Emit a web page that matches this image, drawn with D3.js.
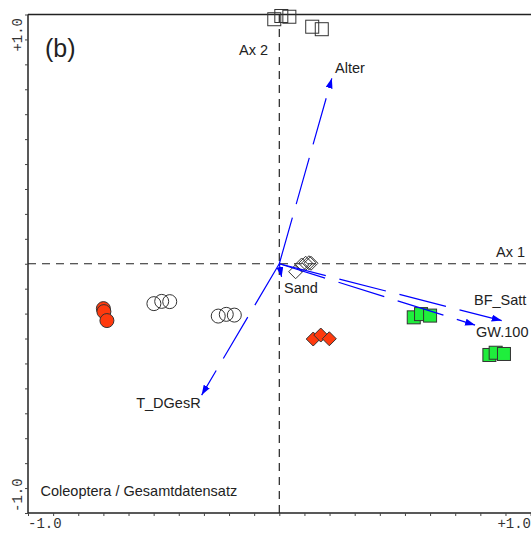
<!DOCTYPE html>
<html>
<head>
<meta charset="utf-8">
<script src="https://cdn.jsdelivr.net/npm/d3@7/dist/d3.min.js"></script>
<style>
  html, body { margin: 0; padding: 0; background: #fff; }
  svg { display: block; }
</style>
</head>
<body>
<svg id="chart" width="531" height="533"></svg>
<script>
// ---- data (ordination scores, axis units -1 .. +1) ----
const openSquaresX = [-0.020, 0.008, 0.040, 0.131, 0.169];
const openSquaresY = [0.981, 0.994, 0.991, 0.951, 0.941];

const openDiamondsX = [0.065, 0.089, 0.105, 0.118, 0.126];
const openDiamondsY = [-0.032, -0.005, 0.002, 0.004, 0.002];

const redDiamondsX = [0.135, 0.165, 0.199];
const redDiamondsY = [-0.302, -0.286, -0.301];

const redCirclesX = [-0.700, -0.698, -0.686];
const redCirclesY = [-0.180, -0.192, -0.228];

const openCirclesX = [-0.499, -0.468, -0.436, -0.243, -0.211, -0.179];
const openCirclesY = [-0.160, -0.151, -0.152, -0.210, -0.203, -0.206];

const greenSquaresX = [0.535, 0.564, 0.600, 0.836, 0.861, 0.894];
const greenSquaresY = [-0.215, -0.202, -0.208, -0.366, -0.357, -0.362];

const envNames = ["Alter", "T_DGesR", "Sand", "BF_Satt", "GW.100"];
const envX = [0.209, -0.309, 0.009, 0.885, 0.779];
const envY = [0.744, -0.527, -0.053, -0.228, -0.246];

const axisTickLabels = ["-1.0", "+1.0"];
const axisNames = ["Ax 1", "Ax 2"];
const panelLabel = "(b)";
const titleText = "Coleoptera / Gesamtdatensatz";

// ---- drawing ----
const svg = d3.select("#chart");
const x = d3.scaleLinear().domain([-1, 1]).range([28, 530.6]);
const y = d3.scaleLinear().domain([-1, 1]).range([513, 14.5]);

const ink = "#222";
const sansFont = "'Liberation Sans', Arial, sans-serif";
const monoFont = "'Liberation Mono', 'Courier New', monospace";
const labelSize = 14.5;

const zip = (xs, ys) => xs.map((v, i) => [v, ys[i]]);

// frame: top, left, bottom
svg.append("line").attr("x1", x(-1)).attr("x2", 531).attr("y1", y(1)).attr("y2", y(1))
  .attr("stroke", ink).attr("stroke-width", 1.5);
svg.append("line").attr("x1", x(-1)).attr("x2", x(-1)).attr("y1", y(1)).attr("y2", y(-1))
  .attr("stroke", ink).attr("stroke-width", 1.5);
svg.append("line").attr("x1", x(-1)).attr("x2", 531).attr("y1", y(-1)).attr("y2", y(-1))
  .attr("stroke", ink).attr("stroke-width", 1.5);

// minor ticks using d3 axes
const tickVals = d3.range(-10, 11).map(d => d / 10);
const xAxis = d3.axisBottom(x).tickValues(tickVals).tickSize(3).tickFormat("");
const yAxis = d3.axisLeft(y).tickValues(tickVals).tickSize(3).tickFormat("");
const gx = svg.append("g").attr("transform", `translate(0,${y(-1)})`).call(xAxis);
const gy = svg.append("g").attr("transform", `translate(${x(-1)},0)`).call(yAxis);
[gx, gy].forEach(g => {
  g.select(".domain").remove();
  g.selectAll(".tick line").attr("stroke", "#444").attr("stroke-width", 1);
});

// tick labels
svg.append("text").attr("x", x(-1)).attr("y", 528).text(axisTickLabels[0])
  .attr("font-family", monoFont).attr("font-size", 14).attr("fill", "#333");
svg.append("text").attr("x", 531).attr("y", 528).attr("text-anchor", "end").text(axisTickLabels[1])
  .attr("font-family", monoFont).attr("font-size", 14).attr("fill", "#333");
svg.append("text").attr("transform", `translate(22,${y(-1) - 1}) rotate(-90)`).text(axisTickLabels[0])
  .attr("font-family", monoFont).attr("font-size", 14).attr("fill", "#333");
svg.append("text").attr("transform", `translate(22,${y(1) + 3.5}) rotate(-90)`).attr("text-anchor", "end")
  .text(axisTickLabels[1])
  .attr("font-family", monoFont).attr("font-size", 14).attr("fill", "#333");

// dashed zero axes
svg.append("line").attr("x1", x(-1)).attr("x2", 531).attr("y1", y(0)).attr("y2", y(0))
  .attr("stroke", ink).attr("stroke-width", 1.2).attr("stroke-dasharray", "8,6");
svg.append("line").attr("x1", x(0)).attr("x2", x(0)).attr("y1", y(-1)).attr("y2", y(1))
  .attr("stroke", ink).attr("stroke-width", 1.2).attr("stroke-dasharray", "8,6");

// axis names
svg.append("text").attr("x", 525).attr("y", 257).attr("text-anchor", "end").text(axisNames[0])
  .attr("font-family", sansFont).attr("font-size", labelSize).attr("fill", ink);
svg.append("text").attr("x", 268).attr("y", 55).attr("text-anchor", "end").text(axisNames[1])
  .attr("font-family", sansFont).attr("font-size", labelSize).attr("fill", ink);

// panel label + title
svg.append("text").attr("x", 45).attr("y", 57).text(panelLabel)
  .attr("font-family", sansFont).attr("font-size", 25).attr("fill", ink);
svg.append("text").attr("x", 40.5).attr("y", 496).text(titleText)
  .attr("font-family", sansFont).attr("font-size", labelSize).attr("fill", ink);

// ---- sample points ----
const sq = 13, rc = 7, dm = 7;
const stroke = "#333";

function squares(data, fill) {
  svg.append("g").selectAll("rect").data(data).join("rect")
    .attr("x", d => x(d[0]) - sq / 2).attr("y", d => y(d[1]) - sq / 2)
    .attr("width", sq).attr("height", sq)
    .attr("fill", fill).attr("stroke", stroke).attr("stroke-width", 1);
}
function circles(data, fill) {
  svg.append("g").selectAll("circle").data(data).join("circle")
    .attr("cx", d => x(d[0])).attr("cy", d => y(d[1])).attr("r", rc)
    .attr("fill", fill).attr("stroke", stroke).attr("stroke-width", 1);
}
function diamonds(data, fill) {
  svg.append("g").selectAll("path").data(data).join("path")
    .attr("d", d => {
      const cx = x(d[0]), cy = y(d[1]);
      return `M${cx},${cy - dm}L${cx + dm},${cy}L${cx},${cy + dm}L${cx - dm},${cy}Z`;
    })
    .attr("fill", fill).attr("stroke", stroke).attr("stroke-width", 1);
}

squares(zip(openSquaresX, openSquaresY), "none");
circles(zip(openCirclesX, openCirclesY), "none");
circles(zip(redCirclesX, redCirclesY), "#ff3a0e");
diamonds(zip(redDiamondsX, redDiamondsY), "#ff3a0e");
squares(zip(greenSquaresX, greenSquaresY), "#1fee3c");
diamonds(zip(openDiamondsX, openDiamondsY), "none");

// ---- environmental arrows ----
const blue = "#0000ff";
svg.append("defs").append("marker")
  .attr("id", "head").attr("markerUnits", "userSpaceOnUse")
  .attr("markerWidth", 11).attr("markerHeight", 8)
  .attr("refX", 10).attr("refY", 3.5).attr("orient", "auto")
  .append("path").attr("d", "M0,0L10,3.5L0,7Z").attr("fill", blue);

const labelOffsets = {
  "Alter":   { dx: 3.3, dy: -5.6, anchor: "start" },
  "T_DGesR": { dx: -1, dy: 13.3, anchor: "end" },
  "Sand":    { dx: 2.5, dy: 15.7, anchor: "start" },
  "BF_Satt": { dx: -27.7, dy: -15.7, anchor: "start" },
  "GW.100":  { dx: 1, dy: 12, anchor: "start" }
};

const env = envNames.map((n, i) => ({ name: n, x: envX[i], y: envY[i] }));
const ga = svg.append("g");
ga.selectAll("line").data(env).join("line")
  .attr("x1", x(0)).attr("y1", y(0))
  .attr("x2", d => x(d.x)).attr("y2", d => y(d.y))
  .attr("stroke", blue).attr("stroke-width", 1.2)
  .attr("stroke-dasharray", "48,14")
  .attr("marker-end", "url(#head)");
ga.selectAll("text").data(env).join("text")
  .attr("x", d => x(d.x) + labelOffsets[d.name].dx)
  .attr("y", d => y(d.y) + labelOffsets[d.name].dy)
  .attr("text-anchor", d => labelOffsets[d.name].anchor)
  .attr("font-family", sansFont).attr("font-size", labelSize).attr("fill", ink)
  .text(d => d.name);
</script>
</body>
</html>
